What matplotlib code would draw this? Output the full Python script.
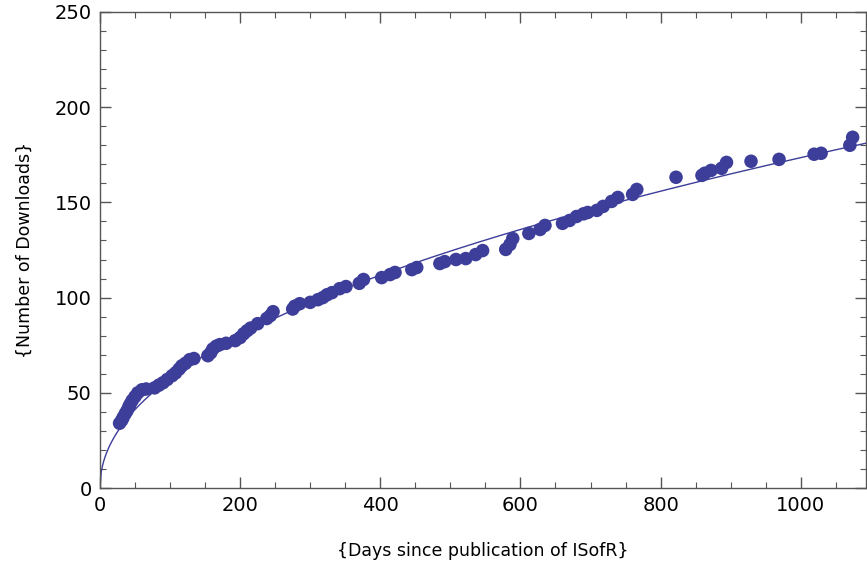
import matplotlib
matplotlib.use("Agg")
import matplotlib.pyplot as plt
import numpy as np
from matplotlib.ticker import MultipleLocator

# days since publication vs cumulative downloads
days = [28, 31, 33, 36, 38.5, 41, 43, 46, 50, 54, 60, 66, 78, 84, 90, 96, 103,
        108, 113, 117, 122, 128, 134, 154, 158, 161, 166, 171, 180, 193, 200,
        205, 210, 215, 225, 238, 243, 247, 275, 278, 285, 300, 311, 318, 324,
        331, 342, 351, 370, 376, 402, 414, 421, 445, 452, 485, 492, 508, 522,
        536, 546, 579, 585, 589, 612, 628, 635, 660, 670, 680, 690, 696, 709,
        718, 730, 739, 760, 766, 822, 859, 863, 872, 887, 894, 929, 969, 1019,
        1029, 1070, 1074]
downloads = [34, 35.5, 37, 39, 40.5, 42.5, 44, 46, 48, 50, 51.6, 52, 52.6, 54,
             55.3, 57, 59, 60.5, 62.5, 64.2, 65.5, 67.4, 68, 69.5, 71, 73, 74.5,
             75.3, 76, 77.4, 79, 81, 82.6, 84, 86.3, 89, 90.5, 92.6, 94, 95.5,
             96.8, 97.5, 98.9, 100, 101.5, 102.6, 104.7, 105.8, 107.5, 109.5,
             110.5, 112.1, 113.2, 114.7, 115.8, 117.9, 118.9, 120, 120.5, 122.6,
             124.7, 125.3, 127.9, 131, 133.7, 135.8, 137.9, 139, 140.5, 142.6,
             144, 144.7, 145.8, 147.9, 150.5, 152.6, 154.2, 156.8, 163.2, 164.2,
             165.3, 166.8, 167.9, 171, 171.6, 172.6, 175.3, 175.8, 180, 184.2]

# power-law fit  y = a * x^b
fit_a = 6.3
fit_b = 0.48

color = "#3d3d9a"

fig = plt.figure(figsize=(8.67, 5.63), dpi=100)
ax = fig.add_axes([0.1153, 0.1332, 0.8835, 0.8455])

xs = np.linspace(0, 1095, 600)
ax.plot(xs, fit_a * xs ** fit_b, color=color, lw=1.0, zorder=2)
ax.scatter(days, downloads, s=95, color=color, edgecolors="none", zorder=3)

ax.set_xlim(0, 1093)
ax.set_ylim(0, 250)

ax.xaxis.set_major_locator(MultipleLocator(200))
ax.xaxis.set_minor_locator(MultipleLocator(50))
ax.yaxis.set_major_locator(MultipleLocator(50))
ax.yaxis.set_minor_locator(MultipleLocator(10))

ax.tick_params(which="both", direction="in", top=True, right=True,
               color="#555555", labelsize=14)
ax.tick_params(axis="x", pad=6)
ax.tick_params(axis="y", pad=6)
ax.tick_params(which="major", length=8, width=1.0)
ax.tick_params(which="minor", length=4, width=0.8)

for sp in ax.spines.values():
    sp.set_color("#555555")
    sp.set_linewidth(1.0)

ax.set_xlabel("{Days since publication of ISofR}", fontsize=12.5, labelpad=19)
ax.set_ylabel("{Number of Downloads}", fontsize=12.5, labelpad=15)

fig.savefig("out.png", dpi=100)
